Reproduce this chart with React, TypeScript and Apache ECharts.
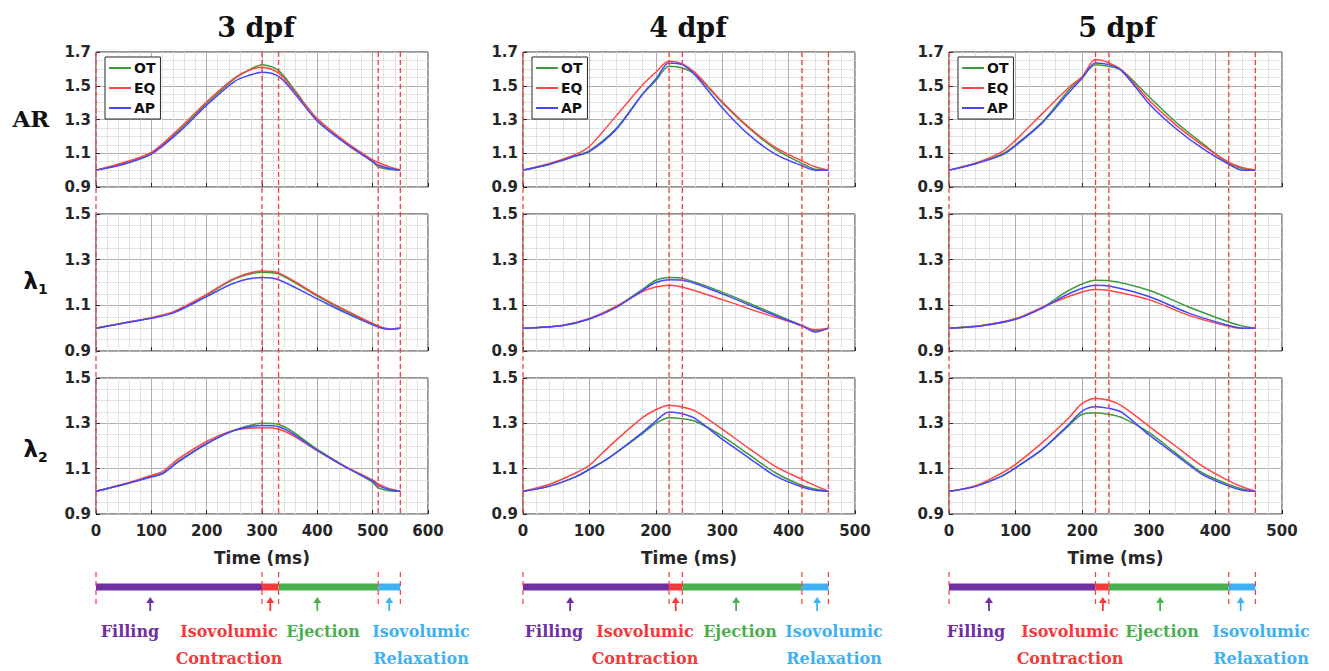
import React, { useEffect, useRef } from "react";
import * as echarts from "echarts";

// ---------- categories / labels ----------
const seriesNames = ["OT", "EQ", "AP"];
const seriesColors = ["#3c9a3c", "#ff4545", "#4646ff"];
const dpfTitles = ["3 dpf", "4 dpf", "5 dpf"];
const xMaxes = [600, 500, 500];
const rowYMin = [0.9, 0.9, 0.9];
const rowYMax = [1.7, 1.5, 1.5];
const phaseBounds = [
  [0, 300, 330, 510, 550],
  [0, 220, 240, 420, 460],
  [0, 220, 240, 420, 460],
];
const arrowTimes = [
  [98, 315, 400, 530],
  [71, 230, 321, 443],
  [60, 231, 317, 438],
];
const phaseNames = ["Filling", "Isovolumic\nContraction", "Ejection", "Isovolumic\nRelaxation"];
const phaseColors = ["#7030a0", "#f03c3c", "#4caf50", "#3fb0f0"];

// ---------- 3 dpf ----------
const t3AR = [0, 50, 100, 150, 200, 250, 275, 300, 330, 360, 400, 450, 500, 510, 530, 550];
const ot3AR = [1.0, 1.04, 1.1, 1.235, 1.395, 1.54, 1.59, 1.625, 1.59, 1.47, 1.3, 1.165, 1.05, 1.02, 1.005, 1.0];
const eq3AR = [1.0, 1.045, 1.105, 1.245, 1.405, 1.545, 1.59, 1.61, 1.575, 1.46, 1.305, 1.17, 1.06, 1.045, 1.02, 1.0];
const ap3AR = [1.0, 1.035, 1.095, 1.225, 1.385, 1.525, 1.56, 1.58, 1.555, 1.45, 1.29, 1.16, 1.05, 1.03, 1.01, 1.0];

const t3L1 = [0, 50, 100, 140, 200, 250, 300, 330, 400, 450, 510, 530, 550];
const ot3L1 = [1.0, 1.023, 1.045, 1.07, 1.145, 1.215, 1.245, 1.237, 1.14, 1.075, 1.008, 0.997, 1.0];
const eq3L1 = [1.0, 1.023, 1.046, 1.072, 1.148, 1.218, 1.25, 1.242, 1.145, 1.08, 1.01, 0.997, 1.0];
const ap3L1 = [1.0, 1.022, 1.043, 1.067, 1.138, 1.198, 1.222, 1.212, 1.128, 1.068, 1.005, 0.995, 1.0];

const t3L2 = [0, 50, 100, 120, 150, 200, 250, 300, 330, 400, 450, 500, 510, 530, 550];
const ot3L2 = [1.0, 1.03, 1.065, 1.08, 1.135, 1.21, 1.27, 1.3, 1.295, 1.185, 1.11, 1.04, 1.015, 1.003, 1.0];
const eq3L2 = [1.0, 1.032, 1.07, 1.087, 1.145, 1.22, 1.27, 1.28, 1.275, 1.18, 1.11, 1.05, 1.033, 1.012, 1.0];
const ap3L2 = [1.0, 1.03, 1.063, 1.077, 1.132, 1.21, 1.268, 1.29, 1.285, 1.18, 1.108, 1.045, 1.025, 1.008, 1.0];

// ---------- 4 dpf ----------
const t4AR = [0, 40, 80, 100, 140, 180, 200, 220, 240, 260, 300, 340, 380, 420, 440, 460];
const ot4AR = [1.0, 1.035, 1.085, 1.115, 1.245, 1.45, 1.53, 1.615, 1.605, 1.565, 1.4, 1.25, 1.125, 1.04, 1.005, 1.0];
const eq4AR = [1.0, 1.04, 1.095, 1.14, 1.32, 1.505, 1.58, 1.645, 1.63, 1.575, 1.405, 1.255, 1.135, 1.055, 1.02, 1.0];
const ap4AR = [1.0, 1.035, 1.085, 1.11, 1.24, 1.45, 1.54, 1.635, 1.625, 1.56, 1.37, 1.21, 1.095, 1.026, 1.0, 1.0];

const t4L1 = [0, 60, 100, 140, 180, 200, 220, 240, 300, 360, 420, 440, 460];
const ot4L1 = [1.0, 1.012, 1.04, 1.093, 1.17, 1.21, 1.222, 1.218, 1.158, 1.085, 1.012, 0.99, 1.0];
const eq4L1 = [1.0, 1.013, 1.042, 1.095, 1.16, 1.18, 1.188, 1.18, 1.125, 1.066, 1.012, 0.993, 1.0];
const ap4L1 = [1.0, 1.012, 1.04, 1.09, 1.165, 1.2, 1.212, 1.21, 1.15, 1.078, 1.01, 0.983, 1.0];

const t4L2 = [0, 40, 80, 100, 120, 140, 180, 200, 220, 240, 260, 300, 340, 380, 420, 440, 460];
const ot4L2 = [1.0, 1.023, 1.065, 1.097, 1.13, 1.17, 1.255, 1.3, 1.325, 1.32, 1.308, 1.244, 1.163, 1.082, 1.026, 1.01, 1.0];
const eq4L2 = [1.0, 1.031, 1.082, 1.115, 1.17, 1.225, 1.325, 1.36, 1.38, 1.372, 1.354, 1.274, 1.19, 1.11, 1.053, 1.025, 1.0];
const ap4L2 = [1.0, 1.023, 1.065, 1.097, 1.13, 1.17, 1.26, 1.31, 1.35, 1.342, 1.32, 1.23, 1.148, 1.068, 1.019, 1.005, 1.0];

// ---------- 5 dpf ----------
const t5AR = [0, 40, 80, 100, 140, 180, 200, 220, 240, 260, 300, 340, 380, 420, 440, 460];
const ot5AR = [1.0, 1.04, 1.096, 1.15, 1.285, 1.475, 1.55, 1.625, 1.615, 1.59, 1.436, 1.287, 1.16, 1.04, 1.01, 1.0];
const eq5AR = [1.0, 1.042, 1.11, 1.178, 1.335, 1.49, 1.555, 1.655, 1.635, 1.59, 1.415, 1.27, 1.15, 1.047, 1.015, 1.0];
const ap5AR = [1.0, 1.038, 1.09, 1.145, 1.28, 1.46, 1.545, 1.635, 1.625, 1.585, 1.395, 1.248, 1.13, 1.035, 1.0, 1.0];

const t5L1 = [0, 50, 100, 140, 180, 220, 240, 300, 360, 420, 440, 460];
const ot5L1 = [1.0, 1.012, 1.04, 1.09, 1.166, 1.21, 1.208, 1.166, 1.093, 1.027, 1.01, 1.0];
const eq5L1 = [1.0, 1.012, 1.042, 1.092, 1.139, 1.169, 1.165, 1.125, 1.056, 1.008, 1.0, 1.0];
const ap5L1 = [1.0, 1.011, 1.039, 1.088, 1.151, 1.188, 1.185, 1.139, 1.066, 1.012, 1.0, 1.0];

const t5L2 = [0, 40, 80, 100, 140, 180, 200, 220, 240, 260, 300, 340, 380, 420, 440, 460];
const ot5L2 = [1.0, 1.023, 1.068, 1.104, 1.185, 1.29, 1.34, 1.347, 1.34, 1.325, 1.26, 1.17, 1.082, 1.03, 1.01, 1.0];
const eq5L2 = [1.0, 1.025, 1.082, 1.119, 1.215, 1.325, 1.388, 1.41, 1.402, 1.376, 1.288, 1.2, 1.112, 1.046, 1.02, 1.0];
const ap5L2 = [1.0, 1.022, 1.068, 1.104, 1.185, 1.296, 1.354, 1.373, 1.366, 1.347, 1.25, 1.162, 1.075, 1.023, 1.005, 1.0];

const curves = [
  [
    { t: t3AR, v: [ot3AR, eq3AR, ap3AR] },
    { t: t3L1, v: [ot3L1, eq3L1, ap3L1] },
    { t: t3L2, v: [ot3L2, eq3L2, ap3L2] },
  ],
  [
    { t: t4AR, v: [ot4AR, eq4AR, ap4AR] },
    { t: t4L1, v: [ot4L1, eq4L1, ap4L1] },
    { t: t4L2, v: [ot4L2, eq4L2, ap4L2] },
  ],
  [
    { t: t5AR, v: [ot5AR, eq5AR, ap5AR] },
    { t: t5L1, v: [ot5L1, eq5L1, ap5L1] },
    { t: t5L2, v: [ot5L2, eq5L2, ap5L2] },
  ],
];

// ---------- layout ----------
const colLeft = [96, 523, 949];
const colWidth = [332, 332, 333];
const rowTop = [52, 214, 378];
const rowHeight = [135, 137, 136];
const titleX = [256, 688, 1117];
const labelCenters = [
  [130, 229, 323, 421],
  [554, 645, 740, 834],
  [976, 1070, 1162, 1261],
];

const SANS = "DejaVu Sans";
const SERIF = "DejaVu Serif";

function buildOption() {
  const grid: any[] = [];
  const xAxis: any[] = [];
  const yAxis: any[] = [];
  const series: any[] = [];
  const legend: any[] = [];
  const graphic: any[] = [];

  for (let c = 0; c < 3; c++) {
    for (let r = 0; r < 3; r++) {
      const gi = grid.length;
      grid.push({
        left: colLeft[c],
        top: rowTop[r],
        width: colWidth[c],
        height: rowHeight[r],
        show: true,
        borderColor: "#262626",
        borderWidth: 1,
        backgroundColor: "#fff",
      });
      xAxis.push({
        type: "value",
        gridIndex: gi,
        min: 0,
        max: xMaxes[c],
        interval: 100,
        axisLine: { show: false },
        axisTick: { show: true, inside: true, length: 4, lineStyle: { color: "#262626" } },
        minorTick: { show: false, splitNumber: 5 },
        splitLine: { show: true, lineStyle: { color: "#b0b0b0", width: 1 } },
        minorSplitLine: { show: true, lineStyle: { color: "#e2e2e2", width: 1 } },
        axisLabel: {
          show: r === 2,
          fontFamily: SANS,
          fontWeight: "bold",
          fontSize: 15,
          color: "#262626",
          margin: 9,
        },
        name: r === 2 ? "Time (ms)" : "",
        nameLocation: "middle",
        nameGap: 35,
        nameTextStyle: { fontFamily: SANS, fontWeight: "bold", fontSize: 17, color: "#262626" },
      });
      yAxis.push({
        type: "value",
        gridIndex: gi,
        min: rowYMin[r],
        max: rowYMax[r],
        interval: 0.2,
        axisLine: { show: false },
        axisTick: { show: true, inside: true, length: 4, lineStyle: { color: "#262626" } },
        minorTick: { show: false, splitNumber: 4 },
        splitLine: { show: true, lineStyle: { color: "#b0b0b0", width: 1 } },
        minorSplitLine: { show: true, lineStyle: { color: "#e2e2e2", width: 1 } },
        axisLabel: {
          show: true,
          fontFamily: SANS,
          fontWeight: "bold",
          fontSize: 15,
          color: "#262626",
          margin: 5,
          formatter: (v: number) => v.toFixed(1),
        },
      });
      const cv = curves[c][r];
      for (let s = 0; s < 3; s++) {
        series.push({
          name: seriesNames[s],
          type: "line",
          xAxisIndex: gi,
          yAxisIndex: gi,
          data: cv.t.map((t, i) => [t, cv.v[s][i]]),
          symbol: "none",
          showSymbol: false,
          smooth: 0.3,
          lineStyle: { color: seriesColors[s], width: 1.5 },
          itemStyle: { color: seriesColors[s] },
          z: 3 + s,
          silent: true,
        });
      }
    }
    legend.push({
      data: seriesNames,
      orient: "vertical",
      left: colLeft[c] + 9,
      top: 57,
      icon: "rect",
      itemWidth: 22,
      itemHeight: 2,
      itemGap: 6,
      padding: [4, 5, 4, 4],
      borderColor: "#262626",
      borderWidth: 1,
      backgroundColor: "#fff",
      selectedMode: false,
      textStyle: { fontFamily: SANS, fontWeight: "bold", fontSize: 14, color: "#111", padding: [0, 0, 0, -2] },
      z: 10,
    });
  }

  // overlay grids for phase boundary dashed lines
  for (let c = 0; c < 3; c++) {
    const gi = grid.length;
    grid.push({ left: colLeft[c], top: rowTop[0], width: colWidth[c], height: rowTop[2] + rowHeight[2] - rowTop[0] });
    xAxis.push({ type: "value", gridIndex: gi, min: 0, max: xMaxes[c], show: false });
    yAxis.push({ type: "value", gridIndex: gi, min: 0, max: 1, show: false });
    series.push({
      type: "custom",
      xAxisIndex: gi,
      yAxisIndex: gi,
      data: phaseBounds[c].map((b) => [b, 0]),
      encode: { x: 0, y: 1 },
      silent: true,
      z: 8,
      renderItem: (params: any, api: any) => {
        const x = api.coord([api.value(0), 0])[0];
        const cs = params.coordSys;
        return {
          type: "line",
          shape: { x1: x, y1: cs.y, x2: x, y2: cs.y + cs.height },
          style: { stroke: "#ff3a3a", lineWidth: 1.3, lineDash: [5, 3] },
        };
      },
    });
  }

  // timeline grids
  for (let c = 0; c < 3; c++) {
    const gi = grid.length;
    grid.push({ left: colLeft[c], top: 572, width: colWidth[c], height: 40 });
    xAxis.push({ type: "value", gridIndex: gi, min: 0, max: xMaxes[c], show: false });
    yAxis.push({ type: "value", gridIndex: gi, min: 0, max: 1, show: false });
    const b = phaseBounds[c];
    series.push({
      type: "custom",
      xAxisIndex: gi,
      yAxisIndex: gi,
      data: [0, 1, 2, 3].map((i) => [b[i], b[i + 1], i]),
      encode: { x: [0, 1] },
      silent: true,
      z: 5,
      renderItem: (params: any, api: any) => {
        const x1 = api.coord([api.value(0), 0])[0];
        const x2 = api.coord([api.value(1), 0])[0];
        const cs = params.coordSys;
        return {
          type: "rect",
          shape: { x: x1, y: cs.y + 11.5, width: x2 - x1, height: 7 },
          style: { fill: phaseColors[api.value(2)] },
        };
      },
    });
    series.push({
      type: "custom",
      xAxisIndex: gi,
      yAxisIndex: gi,
      data: b.map((v) => [v, 0]),
      encode: { x: 0, y: 1 },
      silent: true,
      z: 6,
      renderItem: (params: any, api: any) => {
        const x = api.coord([api.value(0), 0])[0];
        const cs = params.coordSys;
        return {
          type: "line",
          shape: { x1: x, y1: cs.y, x2: x, y2: cs.y + 32 },
          style: { stroke: "#ff3a3a", lineWidth: 1.2, lineDash: [5, 4] },
        };
      },
    });
    series.push({
      type: "custom",
      xAxisIndex: gi,
      yAxisIndex: gi,
      data: arrowTimes[c].map((v, i) => [v, 0, i]),
      encode: { x: 0, y: 1 },
      silent: true,
      z: 6,
      renderItem: (params: any, api: any) => {
        const x = api.coord([api.value(0), 0])[0];
        const cs = params.coordSys;
        const col = phaseColors[api.value(2)];
        const top = cs.y + 25;
        return {
          type: "group",
          children: [
            {
              type: "line",
              shape: { x1: x, y1: top + 4, x2: x, y2: top + 14 },
              style: { stroke: col, lineWidth: 1.8 },
            },
            {
              type: "polygon",
              shape: { points: [[x, top], [x - 4, top + 6], [x + 4, top + 6]] },
              style: { fill: col },
            },
          ],
        };
      },
    });
  }

  for (let c = 0; c < 3; c++) {
    graphic.push({
      type: "text",
      x: titleX[c],
      y: 27,
      style: {
        text: dpfTitles[c],
        fontFamily: SERIF,
        fontWeight: "bold",
        fontSize: 27,
        fill: "#111",
        align: "center",
        verticalAlign: "middle",
      },
    });
    for (let i = 0; i < 4; i++) {
      graphic.push({
        type: "text",
        x: labelCenters[c][i],
        y: 618,
        style: {
          text: phaseNames[i],
          fontFamily: SERIF,
          fontWeight: "bold",
          fontSize: 16,
          lineHeight: 27,
          fill: phaseColors[i],
          align: "center",
          verticalAlign: "top",
        },
      });
    }
  }

  graphic.push({
    type: "text",
    x: 31,
    y: 118,
    style: { text: "AR", fontFamily: SERIF, fontWeight: "bold", fontSize: 23, fill: "#111", align: "center", verticalAlign: "middle" },
  });
  const lamY = [281, 449];
  ["1", "2"].forEach((sub, i) => {
    graphic.push({
      type: "text",
      x: 38,
      y: lamY[i],
      style: { text: "λ", fontFamily: SANS, fontWeight: "bold", fontSize: 23, fill: "#111", align: "right", verticalAlign: "middle" },
    });
    graphic.push({
      type: "text",
      x: 38,
      y: lamY[i] + 8,
      style: { text: sub, fontFamily: SANS, fontWeight: "bold", fontSize: 14, fill: "#111", align: "left", verticalAlign: "middle" },
    });
  });

  return {
    animation: false,
    backgroundColor: "#fff",
    grid,
    xAxis,
    yAxis,
    series,
    legend,
    graphic,
  };
}

export default function App() {
  const ref = useRef<HTMLDivElement>(null);
  useEffect(() => {
    if (!ref.current) return;
    const chart = echarts.init(ref.current, undefined, { renderer: "svg" });
    chart.setOption(buildOption() as any);
    return () => chart.dispose();
  }, []);
  return (
    <div
      ref={ref}
      style={{ position: "absolute", left: 0, top: 0, width: 1329, height: 671, background: "#fff" }}
    />
  );
}
